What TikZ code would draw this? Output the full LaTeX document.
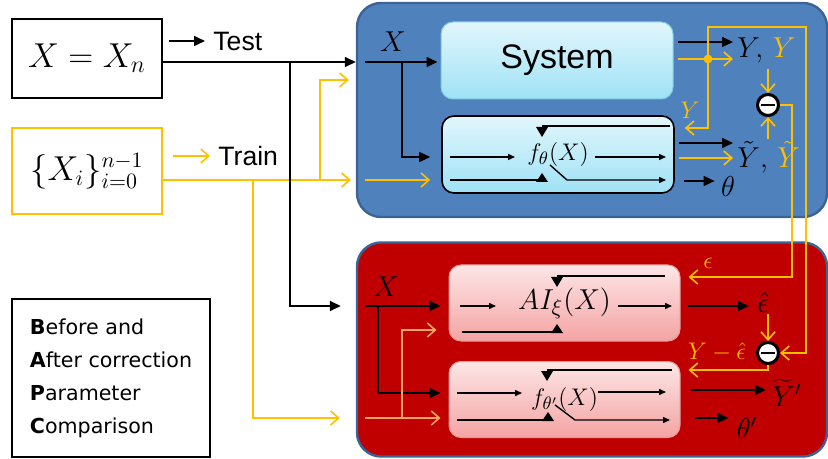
\documentclass[tikz,border=0pt]{standalone}
\usepackage{fontspec}
\newfontfamily\arialfont{Liberation Sans}
\newfontfamily\verdfont{DejaVu Sans}
\usetikzlibrary{arrows.meta, positioning, calc}
\definecolor{panelblue}{HTML}{4F81BD}
\definecolor{panelred}{HTML}{C00000}
\definecolor{paneledge}{HTML}{3B6494}
\definecolor{trainorange}{HTML}{FFC000}
\definecolor{lightorange}{HTML}{F7A55A}
\definecolor{cyantop}{HTML}{E2F6FC}
\definecolor{cyanbot}{HTML}{9EE2F5}
\definecolor{cyanedge}{HTML}{7ECDE4}
\definecolor{pinktop}{HTML}{FDE6E6}
\definecolor{pinkbot}{HTML}{F5A3A3}
\definecolor{pinkedge}{HTML}{E39A9A}

\begin{document}
\begin{tikzpicture}[x=0.5pt, y=-0.5pt,
  panel/.style={draw=paneledge, line width=1.2pt, rounded corners=12pt,
    minimum width=235pt, minimum height=107pt},
  blockc/.style={rounded corners=6pt, top color=cyantop, bottom color=cyanbot,
    minimum width=116pt, minimum height=38.5pt, inner sep=0pt},
  blockp/.style={rounded corners=6pt, top color=pinktop, bottom color=pinkbot,
    draw=pinkedge, line width=0.5pt, minimum width=115.5pt, minimum height=38pt, inner sep=0pt},
  blk/.style={line width=0.8pt, -{Triangle[length=5.5pt,width=5pt]}},
  blkline/.style={line width=0.8pt},
  tip/.style={line width=0.7pt, -{Triangle[length=3.5pt,width=3pt]}},
  org/.style={trainorange, line width=0.8pt, -{Straight Barb[length=4pt,width=7pt]}},
  orgline/.style={trainorange, line width=0.8pt},
  lorg/.style={lightorange, line width=0.8pt, -{Straight Barb[length=4pt,width=7pt]}},
  lbl/.style={inner sep=1pt, font=\fontsize{14}{16}\selectfont},
  olbl/.style={inner sep=1pt, text=trainorange, font=\fontsize{12.5}{14}\selectfont},
  sublbl/.style={inner sep=1pt, anchor=west, font=\arialfont\fontsize{13.3}{15}\selectfont},
  minus/.style={circle, draw, line width=1.5pt, fill=white, minimum size=10.5pt, inner sep=0pt},
]
  \useasboundingbox (0,0) rectangle (828,459);

  % Inputs and legend
  \node[draw, line width=0.8pt, minimum width=75pt, minimum height=39.5pt,
        font=\fontsize{16.5}{20}\selectfont] (xn) at (87,58.5) {$X = X_n$};
  \node[draw=trainorange, line width=0.8pt, minimum width=75pt, minimum height=43pt,
        font=\fontsize{16}{18}\selectfont] (xi) at (87,171) {$\{X_i\}_{i=0}^{n-1}$};
  \node[draw, line width=0.8pt, minimum width=99pt, minimum height=79pt, align=left,
        font=\verdfont\fontsize{10.3}{16.5}\selectfont] (legend) at (111,378)
        {\textbf{B}efore and\\\textbf{A}fter correction\\\textbf{P}arameter\\\textbf{C}omparison};
  \node[sublbl] (test) at (211,41) {Test};
  \node[sublbl] (train) at (216,156) {Train};

  % Panels
  \node[panel, fill=panelblue] (blue) at (592,110) {};
  \node[panel, fill=panelred] (red) at (592,349.5) {};

  % Blocks
  \node[blockc, draw=cyanedge, line width=0.5pt, font=\arialfont\fontsize{17}{20}\selectfont]
        (sys) at (557,60.5) {System};
  \node[blockc, draw=black, line width=0.8pt, font=\fontsize{13}{15}\selectfont]
        (fbox) at (558,154.5) {$f_\theta(X)$};
  \node[blockp, font=\fontsize{15}{17}\selectfont] (aibox) at (564.5,303) {$AI_\xi(X)$};
  \node[blockp, font=\fontsize{13}{15}\selectfont] (fpbox) at (564.5,399.5) {$f_{\theta'}(X)$};

  % Subtractors
  \node[minus] (sub1) at (768,105) {};
  \node[minus] (sub2) at (768,353) {};
  \draw[line width=1.3pt] ([xshift=-3.5pt]sub1.center) -- ([xshift=3.5pt]sub1.center);
  \draw[line width=1.3pt] ([xshift=-3.5pt]sub2.center) -- ([xshift=3.5pt]sub2.center);

  % Labels
  \node[lbl] (xb) at (393,42) {$X$};
  \node[lbl] (xr) at (386,287) {$X$};
  \node[lbl, anchor=west] (yout) at (735,50) {$Y,\,{\color{trainorange}Y}$};
  \node[lbl, anchor=west] (ytout) at (735,157) {$\tilde{Y},\,{\color{trainorange}\tilde{Y}}$};
  \node[lbl] (th) at (728,187) {$\theta$};
  \node[olbl] (ylbl) at (690,110) {$Y$};
  \node[lbl] (ehat) at (763,302) {$\hat{\epsilon}$};
  \node[olbl] (elbl) at (708,263) {$\epsilon$};
  \node[olbl] (ymeh) at (717,352) {$Y-\hat{\epsilon}$};
  \node[lbl] (ytp) at (787,393) {$\widetilde{Y}'$};
  \node[lbl] (thp) at (747,428) {$\theta'$};

  % Left arrows
  \draw[blk] ([xshift=-21pt]test.west) -- ([xshift=-3pt]test.west);
  \draw[org] ([xshift=-21.5pt]train.west) -- ([xshift=-3pt]train.west);
  \coordinate (osplitA) at (320,180);
  \coordinate (osplitB) at (253,180);
  \coordinate (tsplit) at (290,62);
  \draw[org] (xi.east |- osplitA) -- ([xshift=-2.5pt]blue.west |- osplitA);
  \draw[org] (osplitA) |- ([xshift=-3.5pt]blue.west |- 0,80);
  \draw[org] (osplitB) |- ([xshift=-8pt]red.west |- 0,418);
  \draw[blk] (xn.east |- tsplit) -- (blue.west |- tsplit);
  \draw[blk] (tsplit) |- ([xshift=-7.5pt]red.west |- 0,306);

  % Blue panel arrows
  \coordinate (bluein) at (365,62);
  \coordinate (bx) at (402,62);
  \draw[blk] (bluein) -- ([xshift=-1.5pt]sys.west |- bluein);
  \draw[blk] (bx) |- ([xshift=-5.5pt]fbox.west |- 0,157);
  \draw[org] (bluein |- 0,180) -- ([xshift=-5.5pt]fbox.west |- 0,180);
  \coordinate (ydot) at (708,59);
  \draw[blk] ([xshift=2pt]sys.east |- 0,42) -- ([xshift=-1pt]yout.west |- 0,42);
  \draw[org] ([xshift=2pt]sys.east |- ydot) -- ([xshift=-1pt]yout.west |- ydot);
  \draw[org] (ydot) |- (806,27) |- (sub2.east);
  \draw[org] (ydot) |- ([xshift=5pt]fbox.east |- 0,128);
  \fill[trainorange] (ydot) circle (2.2pt);
  \draw[org] ([yshift=-2pt]yout.south -| sub1) -- (sub1.north);
  \draw[org] (ytout.north -| sub1) -- (sub1.south);
  \draw[org] (sub1.east) -| (792,277) -- ([xshift=4pt]aibox.east |- 0,277);
  \draw[blk] ([xshift=2pt]fbox.east |- 0,143) -- ([xshift=-1pt]ytout.west |- 0,143);
  \draw[org] ([xshift=2pt]fbox.east |- 0,158) -- ([xshift=-1pt]ytout.west |- 0,158);
  \draw[blk] ([xshift=4.5pt]fbox.east |- 0,181) -- ([xshift=-2pt]th.west |- 0,181);

  % Red panel arrows
  \coordinate (redin) at (365,306);
  \coordinate (rx) at (378,306);
  \coordinate (ro) at (402,418);
  \draw[blk] (redin) -- ([xshift=-4pt]aibox.west |- redin);
  \draw[blk] (rx) |- ([xshift=-4pt]fpbox.west |- 0,393);
  \draw[lorg] (redin |- ro) -- ([xshift=-4pt]fpbox.west |- ro);
  \draw[lorg] (ro) |- ([xshift=-6pt]aibox.west |- 0,330);
  \draw[blk] ([xshift=3.5pt]aibox.east |- 0,306) -- ([xshift=-3pt]ehat.west |- 0,306);
  \draw[org] (ehat.south -| sub2) -- (sub2.north);
  \draw[org] (sub2.south) |- ([xshift=4pt]fpbox.east |- 0,370);
  \draw[blk] ([xshift=5pt]fpbox.east |- 0,390) -- ([xshift=-2pt]ytp.west |- 0,390);
  \draw[blk] ([xshift=7pt]fpbox.east |- 0,418) -- ([xshift=-3pt]thp.west |- 0,418);

  % Block icons: f_theta
  \draw[blkline] (542,126) -- (670,126);
  \fill (536,127) -- (548,127) -- (542,137) -- cycle;
  \draw[tip] (450,157) -- (515,157);
  \draw[tip] (595,157) -- (666,157);
  \draw[blkline] (450,180) -- (542,180);
  \fill (536,182) -- (548,182) -- (542,173) -- cycle;
  \draw[tip] (550,165) -- (567,180) -- (666,180);

  % Block icons: AI_xi
  \draw[blkline] (557,276) -- (665,276);
  \fill (551,277) -- (563,277) -- (557,287) -- cycle;
  \draw[tip] (460,306) -- (496,306);
  \draw[tip] (618,306) -- (672,306);
  \draw[blkline] (462,332) -- (557,332);
  \fill (551,333) -- (563,333) -- (557,324) -- cycle;

  % Block icons: f_theta'
  \draw[blkline] (547,370) -- (672,370);
  \fill (541,371) -- (553,371) -- (547,381) -- cycle;
  \draw[tip] (457,393) -- (522,393);
  \draw[tip] (598,392) -- (666,392);
  \draw[blkline] (457,420) -- (548,420);
  \fill (542,421) -- (554,421) -- (548,412) -- cycle;
  \draw[tip] (555,405) -- (575,420) -- (670,420);
\end{tikzpicture}
\end{document}
